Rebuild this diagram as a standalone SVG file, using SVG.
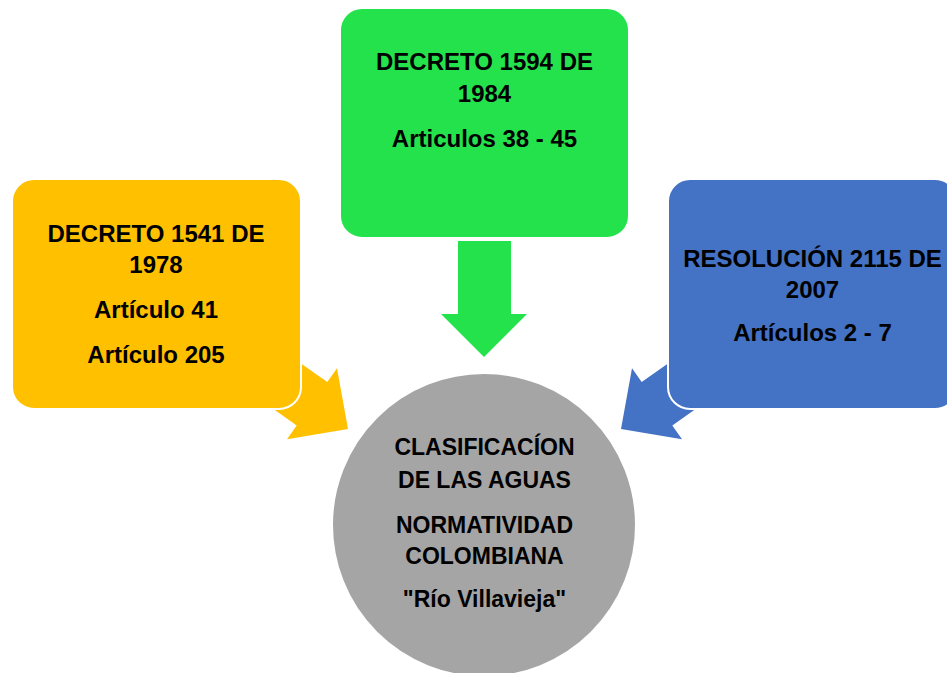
<svg xmlns="http://www.w3.org/2000/svg" width="947" height="673" viewBox="0 0 947 673">
  <style>
    .box { stroke: #ffffff; stroke-width: 2; }
    .t { font-family: "Liberation Sans", Arial, sans-serif; font-weight: bold; font-size: 24px; fill: #000000; text-anchor: middle; }
    .ct { font-family: "Liberation Sans", Arial, sans-serif; font-weight: bold; font-size: 23px; fill: #000000; text-anchor: middle; }
  </style>
  <rect width="947" height="673" fill="#ffffff"/>
  <g id="connectors">
    <polygon points="261.9,335.9 327.3,382 337,368.2 348,429 287,439.2 296.7,425.4 231.3,379.3" fill="#FFC000"/>
    <polygon points="458,241 511,241 511,314 527,314 484,357 441,314 458,314" fill="#24E24B"/>
    <polygon points="707.1,335.9 641.7,382 632,368.2 621,429 682,439.2 672.3,425.4 737.7,379.3" fill="#4472C4"/>
  </g>
  <g id="node-decreto-1541">
    <rect class="box" x="12" y="179" width="289" height="230" rx="22" ry="22" fill="#FFC000"/>
    <text class="t" x="156" y="242">DECRETO 1541 DE</text>
    <text class="t" x="156" y="273">1978</text>
    <text class="t" x="156" y="318">Artículo 41</text>
    <text class="t" x="156" y="363">Artículo 205</text>
  </g>
  <g id="node-decreto-1594">
    <rect class="box" x="340" y="8" width="289" height="230" rx="22" ry="22" fill="#24E24B"/>
    <text class="t" x="484.5" y="70">DECRETO 1594 DE</text>
    <text class="t" x="484.5" y="102">1984</text>
    <text class="t" x="484.5" y="147">Articulos 38 - 45</text>
  </g>
  <g id="node-resolucion-2115">
    <rect class="box" x="668" y="179" width="289" height="230" rx="22" ry="22" fill="#4472C4"/>
    <text class="t" x="812.5" y="267">RESOLUCIÓN 2115 DE</text>
    <text class="t" x="812.5" y="298">2007</text>
    <text class="t" x="812.5" y="341">Artículos 2 - 7</text>
  </g>
  <g id="node-clasificacion">
    <circle class="box" cx="484" cy="525" r="152" fill="#A5A5A5"/>
    <text class="ct" x="484.5" y="455">CLASIFICACÍON</text>
    <text class="ct" x="484.5" y="488">DE LAS AGUAS</text>
    <text class="ct" x="484.5" y="533">NORMATIVIDAD</text>
    <text class="ct" x="484.5" y="564">COLOMBIANA</text>
    <text class="ct" x="484.5" y="607">"Río Villavieja"</text>
  </g>
</svg>
